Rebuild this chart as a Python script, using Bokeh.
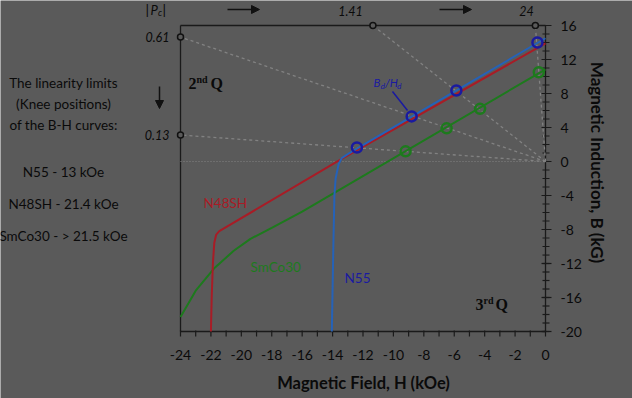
import math
from bokeh.plotting import figure
from bokeh.models import Label, Arrow, NormalHead
from bokeh.core.properties import value
from bokeh.embed import file_html
from bokeh.resources import INLINE

# ---------------- data ----------------
permeance = [0.13, 0.61, 1.41, 24]          # |Pc| load lines, B/H
perm_labels = ["0.13", "0.61", "1.41", "24"]

n55_H = [0.0, -12.6, -13.05, -13.4, -13.6, -13.8, -13.88, -13.95, -14.05]
n55_B = [14.5, 1.3, 0.8, 0.4, -0.3, -2.0, -4.0, -10.0, -20.0]

n48sh_H = [0.0, -13.6, -21.45, -21.65, -21.78, -21.87, -21.95, -22.0]
n48sh_B = [13.9, 0.1, -8.2, -8.6, -9.6, -12.0, -16.0, -20.0]

smco_H = [0.0, -16.0, -18.0, -19.4, -20.5, -21.8, -23.0, -24.0]
smco_B = [10.85, -5.9, -7.8, -9.1, -10.5, -12.6, -15.2, -18.3]

n55_pts_H = [-0.53, -5.86, -8.8, -12.4]
n55_pts_B = [14.0, 8.35, 5.3, 1.65]
smco_pts_H = [-0.44, -4.3, -6.5, -9.2]
smco_pts_B = [10.5, 6.2, 3.9, 1.2]

x_ticks = list(range(-24, 1, 2))
x_minor = list(range(-24, 1))
y_ticks = list(range(-20, 17, 4))
y_minor = list(range(-20, 17))
x_tick_labels = [str(t) for t in x_ticks]
y_tick_labels = [str(t) for t in y_ticks]

notes = ["The linearity limits", "(Knee positions)", "of the B-H curves:"]
knees = ["N55 - 13 kOe", "N48SH - 21.4 kOe", "SmCo30 - > 21.5 kOe"]

# ---------------- styling ----------------
BG = "#5a5a5a"
INK = "#0a0a0a"
AX = "#1a1a1a"
RED = "#a81c26"
BLUE = "#2562b8"
DBLUE = "#1a1aa0"
GREEN = "#1d7a1d"
DOT = "#828282"
FONT = "Lato"
SERIF = "Liberation Serif"

W, H = 632, 398
XMIN, XMAX, YMIN, YMAX = -24, 0, -20, 16
FX0, FX1, FY0, FY1 = 180, 545, 25, 331   # plot box in pixels


def X(px):
    return XMIN + (px - FX0) * (XMAX - XMIN) / (FX1 - FX0)


def Y(py):
    return YMAX - (py - FY0) * (YMAX - YMIN) / (FY1 - FY0)


p = figure(width=W, height=H, x_range=(X(0), X(W)), y_range=(Y(H), Y(0)),
           x_axis_location=None, y_axis_location=None,
           min_border=0, min_border_left=0, min_border_right=0,
           min_border_top=0, min_border_bottom=0,
           output_backend="svg", toolbar_location=None)
p.background_fill_color = BG
p.border_fill_color = BG
p.outline_line_color = None
p.grid.visible = False

# ---------------- plot box / axes ----------------
p.line([XMIN, XMAX], [YMAX, YMAX], line_color=AX, line_width=1.3)
p.line([XMIN, XMIN], [YMIN, YMAX], line_color=AX, line_width=1.3)
p.line([XMIN, XMAX], [YMIN, YMIN], line_color=AX, line_width=1.3)
p.line([XMAX, XMAX], [YMIN, YMAX], line_color=AX, line_width=1.3)

# x ticks (below the bottom axis)
p.segment(x0=x_minor, y0=[Y(FY1 - 1)] * len(x_minor), x1=x_minor, y1=[Y(FY1 + 5)] * len(x_minor),
          line_color=AX, line_width=1.2)
# y ticks (across the right axis)
p.segment(x0=[X(FX1 - 3)] * len(y_minor), y0=y_minor, x1=[X(FX1 + 4)] * len(y_minor), y1=y_minor,
          line_color=AX, line_width=1.2)
p.segment(x0=[X(FX1 - 4)] * len(y_ticks), y0=y_ticks, x1=[X(FX1 + 6)] * len(y_ticks), y1=y_ticks,
          line_color=AX, line_width=1.2)

p.text(x=x_ticks, y=[Y(354)] * len(x_ticks), text=x_tick_labels,
       text_align="center", text_baseline="middle", text_font=value(FONT),
       text_font_size="14px", text_color=INK)
p.text(x=[X(560)] * len(y_ticks), y=y_ticks, text=y_tick_labels,
       text_align="left", text_baseline="middle", text_font=value(FONT),
       text_font_size="14px", text_color=INK)

p.add_layout(Label(x=X(363), y=Y(382), text="Magnetic Field, H (kOe)", text_align="center",
                   text_baseline="middle", text_font=FONT, text_font_style="bold",
                   text_font_size="16.5px", text_color=INK))
p.add_layout(Label(x=X(597), y=Y(162), text="Magnetic Induction, B (kG)", text_align="center",
                   text_baseline="middle", text_font=FONT, text_font_style="bold",
                   text_font_size="17px", text_color=INK, angle=-math.pi / 2))

# zero line
p.line([XMIN, XMAX], [0, 0], line_color=DOT, line_dash="1 2", line_width=1.2)

# permeance (load) lines from origin to plot border
end_H, end_B = [], []
for s in permeance:
    if abs(XMIN) * s <= YMAX:
        h, b = XMIN, -XMIN * s
    else:
        h, b = -YMAX / s, YMAX
    end_H.append(h)
    end_B.append(b)
    p.line([0, h], [0, b], line_color=DOT, line_dash="3 3", line_width=1.3)

# B-H curves
p.line(smco_H, smco_B, line_color=GREEN, line_width=2)
p.line(n48sh_H, n48sh_B, line_color=RED, line_width=2)
p.line(n55_H, n55_B, line_color=BLUE, line_width=2)

# intersection markers
p.scatter(n55_pts_H, n55_pts_B, size=10, fill_color=None, line_color=DBLUE, line_width=2.5)
p.scatter(smco_pts_H, smco_pts_B, size=10, fill_color=None, line_color=GREEN, line_width=2.5)
# load-line end markers on the border
p.scatter(end_H, end_B, size=6, fill_color=BG, line_color="#111111", line_width=1.5)


def lab(x, y, text, size="14px", color=INK, align="center", font=FONT, style="normal"):
    p.add_layout(Label(x=x, y=y, text=text, text_align=align, text_baseline="middle",
                       text_font=font, text_font_size=size, text_color=color,
                       text_font_style=style))


# left notes
for t, py in zip(notes, [82, 103, 124]):
    lab(X(63), Y(py), t, size="13.5px")
for t, py in zip(knees, [171, 203, 235]):
    lab(X(63), Y(py), t, size="13.5px")

# permeance labels
lab(X(169), end_B[1], perm_labels[1], align="right", style="italic", size="12.5px")
lab(X(169), end_B[0], perm_labels[0], align="right", style="italic", size="12.5px")
lab(X(350), Y(10), perm_labels[2], style="italic", size="12.5px")
lab(X(526), Y(10), perm_labels[3], style="italic", size="12.5px")

# |Pc|
lab(X(145), Y(9), "|", align="left", size="14px")
lab(X(150), Y(9), "P", align="left", style="italic", size="13px")
lab(X(157.5), Y(12), "c", align="left", style="italic", size="9px")
lab(X(162), Y(9), "|", align="left", size="14px")

# arrows
for x0, x1 in [(227, 259), (439, 471)]:
    p.add_layout(Arrow(end=NormalHead(size=8, fill_color="#111111", line_color="#111111"),
                       x_start=X(x0), y_start=Y(9), x_end=X(x1), y_end=Y(9),
                       line_color="#111111", line_width=1.5))
p.add_layout(Arrow(end=NormalHead(size=8, fill_color="#111111", line_color="#111111"),
                   x_start=X(159), y_start=Y(86), x_end=X(159), y_end=Y(108),
                   line_color="#111111", line_width=1.5))

# quadrant labels
lab(X(188), Y(83), "2", align="left", font=SERIF, style="bold", size="16px")
lab(X(196), Y(79), "nd", align="left", font=SERIF, style="bold", size="10px")
lab(X(210), Y(83), "Q", align="left", font=SERIF, style="bold", size="16px")
lab(X(475), Y(304), "3", align="left", font=SERIF, style="bold", size="16px")
lab(X(483), Y(300), "rd", align="left", font=SERIF, style="bold", size="10px")
lab(X(495), Y(304), "Q", align="left", font=SERIF, style="bold", size="16px")

# curve names
lab(X(203), Y(202), "N48SH", align="left", color=RED, size="13.5px")
lab(X(250), Y(266), "SmCo30", align="left", color=GREEN, size="13.5px")
lab(X(344), Y(277), "N55", align="left", color=DBLUE, size="13.5px")

# Bd/Hd annotation
lab(X(373), Y(82), "B", align="left", color=DBLUE, style="italic", size="11.5px")
lab(X(380), Y(85), "d", align="left", color=DBLUE, style="italic", size="8.5px")
lab(X(384.5), Y(82), "/H", align="left", color=DBLUE, style="italic", size="11.5px")
lab(X(396.5), Y(85), "d", align="left", color=DBLUE, style="italic", size="8.5px")
p.line([X(392), X(407)], [Y(91), Y(110)], line_color=DBLUE, line_width=1.5)

html = file_html(p, INLINE)
html = html.replace("<body>", '<body style="background-color:%s;">' % BG, 1)
open("out.html", "w").write(html)
